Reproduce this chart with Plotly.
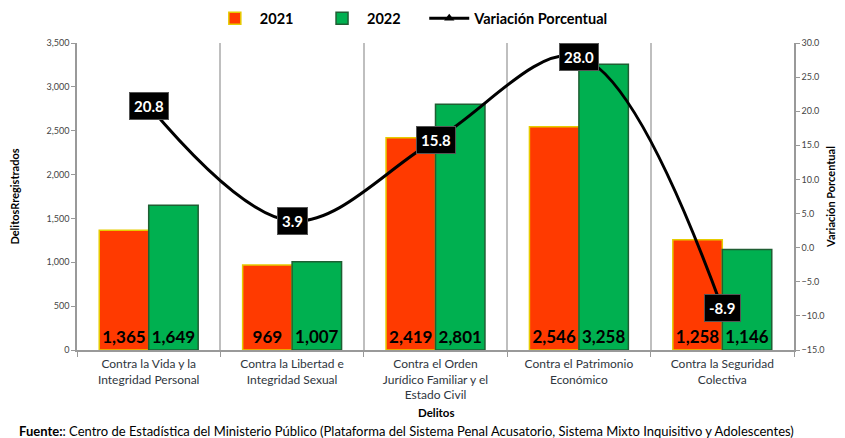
import plotly.graph_objects as go

categories = ["Contra la Vida y la<br>Integridad Personal",
              "Contra la Libertad e<br>Integridad Sexual",
              "Contra el Orden<br>Jurídico Familiar y el<br>Estado Civil",
              "Contra el Patrimonio<br>Económico",
              "Contra la Seguridad<br>Colectiva"]
v2021 = [1365, 969, 2419, 2546, 1258]
v2022 = [1649, 1007, 2801, 3258, 1146]
variacion = [20.8, 3.9, 15.8, 28.0, -8.9]

left_ticks = list(range(0, 3501, 500))
right_ticks = [-15, -10, -5, 0, 5, 10, 15, 20, 25, 30]

FONT = "Lato"
PAD = "&nbsp;" * 5

fig = go.Figure()
fig.add_trace(go.Bar(
    x=categories, y=v2021, name="<b>2021</b>" + PAD,
    marker=dict(color="#FF3A00", line=dict(color="#E6CC00", width=1.5)),
    texttemplate="<b>%{y:,}</b>", textposition="inside", insidetextanchor="start",
    textfont=dict(color="black", size=17, family=FONT), textangle=0,
))
fig.add_trace(go.Bar(
    x=categories, y=v2022, name="<b>2022</b>" + PAD,
    marker=dict(color="#00B050", line=dict(color="#1F5E33", width=1.5)),
    texttemplate="<b>%{y:,}</b>", textposition="inside", insidetextanchor="start",
    textfont=dict(color="black", size=17, family=FONT), textangle=0,
))
fig.add_trace(go.Scatter(
    x=categories, y=variacion, name="<b>Variación Porcentual</b>", yaxis="y2",
    mode="lines+markers", line=dict(color="black", width=3, shape="spline"),
    marker=dict(symbol="triangle-up", size=9, color="black"),
))

for c, v in zip(categories, variacion):
    fig.add_annotation(
        x=c, y=v, xref="x", yref="y2", text=f"<b>{v:.1f}</b>", showarrow=False,
        font=dict(color="white", size=15, family=FONT),
        bgcolor="black", bordercolor="#555555", borderwidth=1, borderpad=4,
    )

fig.add_annotation(x=0.5, xref="paper", y=-0.204, yref="paper", yanchor="middle",
                   text="<b>Delitos</b>", showarrow=False,
                   font=dict(size=11.5, family=FONT, color="black"))
fig.add_annotation(x=-0.083, xref="paper", y=-0.263, yref="paper", xanchor="left", yanchor="middle",
                   text="<b>Fuente:</b>: Centro de Estadística del Ministerio Público (Plataforma del Sistema Penal Acusatorio, Sistema Mixto Inquisitivo y Adolescentes)",
                   showarrow=False, font=dict(size=13, family=FONT, color="black"))

fig.update_layout(
    width=837, height=430,
    margin=dict(l=69, r=51, t=35, b=88, autoexpand=False),
    paper_bgcolor="white", plot_bgcolor="white",
    font=dict(family=FONT, color="black"),
    barmode="group", bargap=0.31, bargroupgap=0,
    showlegend=True,
    legend=dict(orientation="h", x=0.467, xanchor="center", y=1.08, yanchor="middle",
                font=dict(size=14.5, family=FONT), traceorder="normal",
                itemwidth=40, bgcolor="rgba(0,0,0,0)"),
    xaxis=dict(showgrid=True, gridcolor="#BFBFBF", gridwidth=1.5, tickson="boundaries",
               ticks="outside", ticklen=5, tickcolor="#999999", ticklabelstandoff=2,
               showline=True, linecolor="#999999", linewidth=1.5,
               tickfont=dict(size=12, color="#2F3640", family=FONT)),
    yaxis=dict(range=[0, 3500], tickvals=left_ticks, tickformat=",", showgrid=False,
               ticks="outside", ticklen=4, tickcolor="#999999",
               showline=True, linecolor="#999999", linewidth=1.5,
               tickfont=dict(size=9, color="#444444", family=FONT),
               title=dict(text="<b>DelitosRregistrados</b>", font=dict(size=11, family=FONT), standoff=25),
               zeroline=False),
    yaxis2=dict(range=[-15, 30], tickvals=right_ticks, tickformat=".1f", overlaying="y",
                side="right", showgrid=False, zeroline=False,
                ticks="outside", ticklen=4, tickcolor="#999999",
                showline=True, linecolor="#999999", linewidth=1.5,
                tickfont=dict(size=9, color="#444444", family=FONT),
                title=dict(text="<b>Variación Porcentual</b>", font=dict(size=11, family=FONT), standoff=4)),
)

fig.write_html("out.html")
